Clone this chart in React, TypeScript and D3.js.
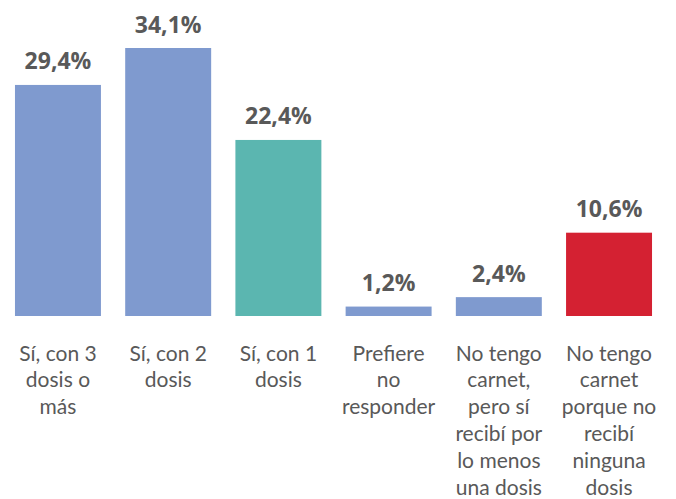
import React from "react";
import * as d3 from "d3";

const categories: string[][] = [
  ["Sí, con 3", "dosis o", "más"],
  ["Sí, con 2", "dosis"],
  ["Sí, con 1", "dosis"],
  ["Prefiere", "no", "responder"],
  ["No tengo", "carnet,", "pero sí", "recibí por", "lo menos", "una dosis"],
  ["No tengo", "carnet", "porque no", "recibí", "ninguna", "dosis"],
];
const values: number[] = [29.4, 34.1, 22.4, 1.2, 2.4, 10.6];
const valueLabels: string[] = ["29,4%", "34,1%", "22,4%", "1,2%", "2,4%", "10,6%"];
const barColors: string[] = ["#7F9ACF", "#7F9ACF", "#5BB6B0", "#7F9ACF", "#7F9ACF", "#D42132"];

const W = 676;
const H = 499;

export default function App() {
  const idx = values.map((_, i) => i);
  const x = d3
    .scaleBand<number>()
    .domain(idx)
    .range([2.85, 664.15])
    .paddingInner(0.22)
    .paddingOuter(0.11);
  const y = d3.scaleLinear().domain([0, 34.1]).range([316, 48]);

  return (
    <svg
      width={W}
      height={H}
      style={{ position: "absolute", left: 0, top: 0, background: "#fff" }}
    >
      <rect x={0} y={0} width={W} height={H} fill="#fff" />
      {idx.map((i) => (
        <rect
          key={"b" + i}
          x={x(i)!}
          y={y(values[i])}
          width={x.bandwidth()}
          height={y(0) - y(values[i])}
          fill={barColors[i]}
        />
      ))}
      {idx.map((i) => (
        <text
          key={"l" + i}
          x={x(i)! + x.bandwidth() / 2}
          y={y(values[i]) - 15.5}
          textAnchor="middle"
          fontFamily="'Open Sans', sans-serif"
          fontWeight={700}
          fontSize={23}
          fill="#595959"
        >
          {valueLabels[i]}
        </text>
      ))}
      {idx.map((i) => (
        <text
          key={"c" + i}
          textAnchor="middle"
          fontFamily="Lato, sans-serif"
          fontSize={21}
          fill="#595959"
        >
          {categories[i].map((line, j) => (
            <tspan key={j} x={x(i)! + x.bandwidth() / 2} y={360.5 + j * 26.8}>
              {line}
            </tspan>
          ))}
        </text>
      ))}
    </svg>
  );
}
